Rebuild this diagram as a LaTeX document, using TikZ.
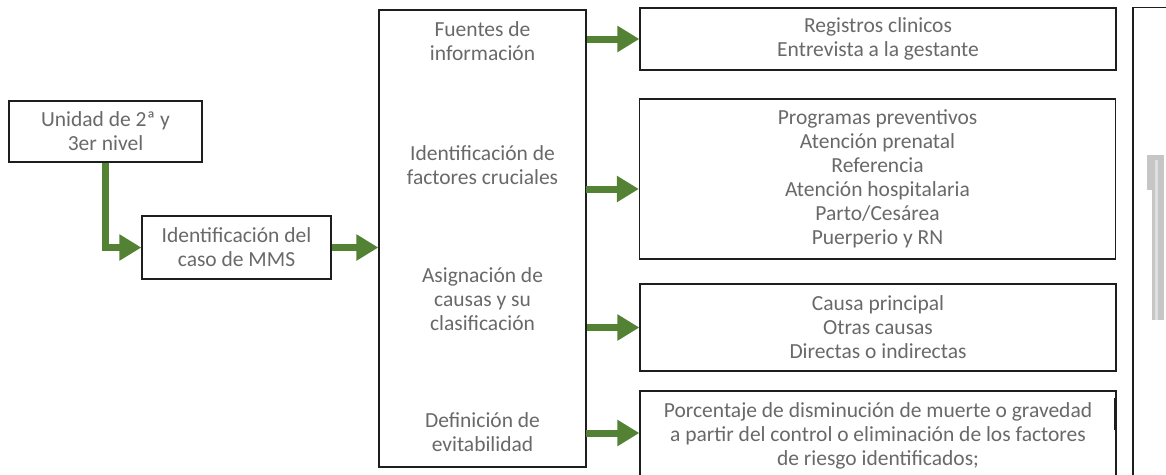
\documentclass[tikz,border=0pt]{standalone}
\usepackage{fontspec}
\setmainfont{Carlito}
\usetikzlibrary{arrows.meta,calc}
\definecolor{arrgreen}{RGB}{84,130,53}
\definecolor{txtgray}{RGB}{105,105,105}
\definecolor{boxline}{RGB}{30,30,30}
\begin{document}
\begin{tikzpicture}[x=1pt,y=-1pt,
  box/.style={draw=boxline,line width=1.3pt,inner sep=0pt,align=center,text=txtgray,
    font=\fontsize{21.5}{24}\selectfont},
  lbl/.style={inner sep=0pt,align=center,text=txtgray,font=\fontsize{21.5}{24}\selectfont},
  arr/.style={draw=arrgreen,line width=7pt,line join=miter,
    -{Triangle[length=22pt,width=25pt]}}]
\clip (0,0) rectangle (1166,474);
\fill[white] (0,0) rectangle (1166,474);
% left boxes
\node[box,minimum width=193pt,minimum height=61pt] (A) at (105.5,131.5) {Unidad de 2ª y\\3er nivel};
\node[box,minimum width=189pt,minimum height=63pt] (B) at (236.5,247.5) {Identificación del\\caso de MMS};
% middle box
\node[box,minimum width=207pt,minimum height=457pt] (M) at (482.5,238.5) {};
\node[lbl] (m1) at (482.5,41.5) {Fuentes de\\información};
\node[lbl] (m2) at (482.5,165) {Identificación de\\factores cruciales};
\node[lbl] (m3) at (482.5,299) {Asignación de\\causas y su\\clasificación};
\node[lbl] (m4) at (482.5,432) {Definición de\\evitabilidad};
% right boxes
\node[box,minimum width=476pt,minimum height=62pt] (R1) at (878,39) {Registros clinicos\\Entrevista a la gestante};
\node[box,minimum width=476pt,minimum height=160pt] (R2) at (877.5,179) {Programas preventivos\\Atención prenatal\\Referencia\\Atención hospitalaria\\Parto/Cesárea\\Puerperio y RN};
\node[box,minimum width=476pt,minimum height=87pt] (R3) at (878,327.5) {Causa principal\\Otras causas\\Directas o indirectas};
\node[box,minimum width=476pt,minimum height=90pt] (R4) at (878,436) {Porcentaje de disminución de muerte o gravedad\\a partir del control o eliminación de los factores\\de riesgo identificados;};
\draw[boxline,line width=2.6pt] (1115.5,398) -- (1115.5,430);
% cropped box at far right
\draw[boxline,line width=1.3pt] (1133,480) -- (1133,7.5) -- (1170,7.5);
\fill[gray!45] (1147,155) rectangle (1164,320);
\fill[white] (1147,190) rectangle (1152,320);
\fill[gray!25] (1155,160) rectangle (1158,320);
% connectors
\coordinate (c2) at (586,189);
\coordinate (c4) at (586,433);
\draw[arr] (A.south) |- (B.west);
\draw[arr] (B.east) -- (B.east -| M.west);
\draw[arr] (M.east |- R1.west) -- (R1.west);
\draw[arr] (c2) -- (c2 -| R2.west);
\draw[arr] (M.east |- R3.west) -- (R3.west);
\draw[arr] (c4) -- (c4 -| R4.west);
\end{tikzpicture}
\end{document}
